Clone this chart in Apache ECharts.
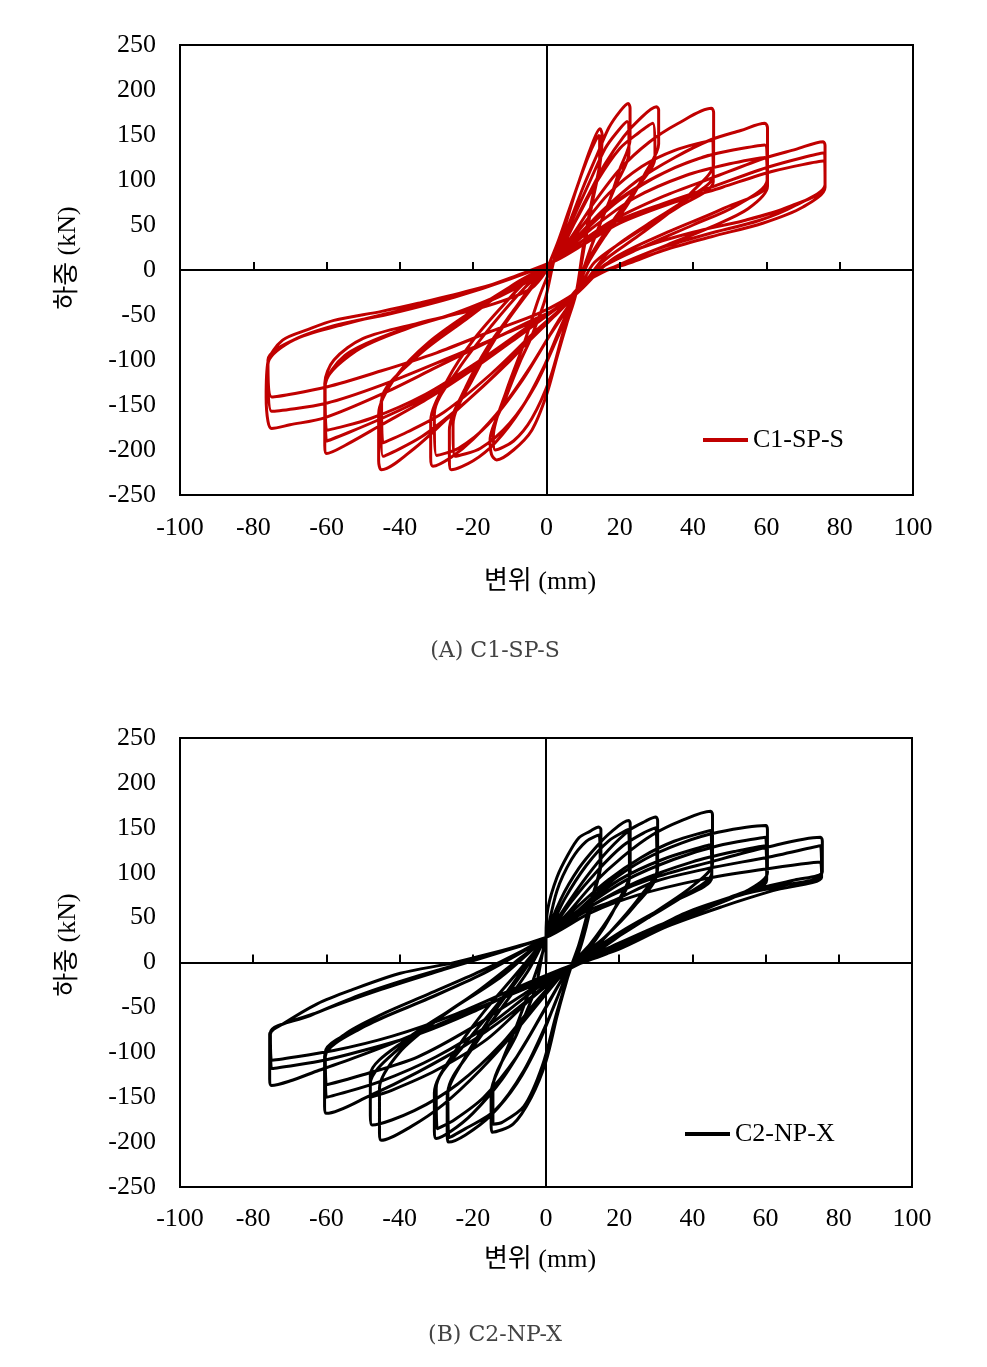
<!DOCTYPE html>
<html>
<head>
<meta charset="utf-8">
<script src="https://cdn.jsdelivr.net/npm/echarts@6/dist/echarts.min.js"></script>
<style>
html,body{margin:0;padding:0;background:#fff;}
#chart{width:987px;height:1367px;}
</style>
</head>
<body>
<div id="chart"></div>
<script>
// ---- tick values ----
var xMin = -100, xMax = 100, xStep = 20;
var yMin = -250, yMax = 250, yStep = 50;

// ---- C1-SP-S : [displacement mm, load kN] per amplitude group ----
var c1Amp15 = [
 [0,0],[3,30],[6,65],[9,100],[12,135],[14.6,157],[15.2,150],[14.5,115],[12.5,75],[10.5,30],[8,-27],[5.5,-60],[3,-95],[0,-139],[-4,-178],[-9,-200],[-13.6,-211],[-15,-205],[-15.4,-189],[-11.3,-144],[-7,-100],[-4.5,-78],[-0.4,-33],[2,10],
 [5,48],[8,88],[11,122],[13.5,145],[14.5,150],[14.5,120],[12.5,80],[10,25],[8,-27],[4.5,-70],[1,-120],[-4,-165],[-9,-190],[-14,-200],[-14.5,-185],[-11,-135],[-6,-80],[-2,-30],[2,10]
];
var c1Amp22 = [
 [6,50],[10,92],[14,130],[17,158],[20,176],[22.3,185],[22.8,180],[22.8,145],[20,112],[17,75],[13,35],[10,0],[8,-27],[4,-62],[-1,-110],[-7,-155],[-14,-192],[-20,-212],[-26,-222],[-26.5,-212],[-26.5,-178],[-22,-130],[-16,-85],[-9,-45],[-3,-12],[2,10],
 [7,55],[12,100],[16,135],[19,152],[22,165],[22.5,130],[19,95],[15,55],[11,12],[8,-27],[3,-75],[-3,-128],[-10,-170],[-18,-198],[-25,-207],[-25.5,-172],[-20,-120],[-13,-70],[-5,-25],[2,10]
];
var c1Amp30 = [
 [6,40],[11,80],[16,118],[21,148],[25,166],[30,181.5],[30.6,178],[30.6,140],[27,108],[22,72],[16,38],[11,5],[8,-27],[3,-58],[-4,-105],[-12,-152],[-20,-188],[-26,-208],[-31,-218],[-31.6,-208],[-31.6,-168],[-27,-122],[-20,-78],[-12,-40],[-5,-10],[2,10],
 [8,55],[14,100],[20,135],[25,152],[29,163],[29.6,125],[24,88],[17,48],[11,8],[8,-27],[1,-72],[-7,-125],[-16,-172],[-24,-198],[-30,-206],[-30.6,-160],[-24,-110],[-15,-62],[-6,-20],[2,10]
];
var c1Amp45 = [
 [7,38],[13,75],[20,112],[28,142],[36,163],[45,179.6],[45.6,175],[45.6,118],[40,88],[33,62],[24,35],[15,8],[8,-27],[2,-52],[-7,-88],[-17,-128],[-27,-165],[-36,-198],[-45,-222],[-45.8,-212],[-45.8,-160],[-41,-118],[-32,-80],[-20,-45],[-8,-14],[2,10],
 [9,45],[17,85],[26,115],[35,133],[45,144],[45.5,105],[38,78],[28,52],[17,20],[8,-27],[-1,-62],[-11,-105],[-23,-150],[-34,-185],[-44.6,-207],[-45.2,-150],[-38,-105],[-26,-65],[-12,-25],[2,10],
 [11,48],[22,85],[33,110],[45,128],[45.5,98],[36,70],[24,40],[13,8],[8,-27],[-3,-68],[-15,-115],[-28,-158],[-38,-180],[-44.6,-192],[-45,-145],[-35,-95],[-22,-55],[-9,-16],[2,10]
];
var c1Amp60 = [
 [8,35],[15,65],[25,100],[35,125],[45,145],[53,155],[59.6,163],[60.3,158],[60.3,93],[55,68],[45,48],[33,28],[21,8],[12,-10],[8,-27],[2,-45],[-8,-75],[-20,-110],[-32,-142],[-45,-172],[-55,-195],[-60,-204],[-60.5,-195],[-60.5,-126],[-58,-100],[-50,-76],[-35,-59],[-17,-41],[-4,-20],[2,10],
 [10,42],[20,78],[32,108],[45,128],[59.6,139],[60.2,100],[52,72],[40,50],[26,25],[14,0],[8,-27],[-2,-55],[-15,-95],[-30,-135],[-45,-165],[-60,-190],[-60.4,-130],[-55,-95],[-42,-70],[-25,-48],[-10,-22],[2,10],
 [12,45],[24,80],[38,105],[50,118],[59.6,125],[60.2,95],[48,68],[33,42],[18,12],[8,-27],[-4,-60],[-18,-100],[-33,-138],[-48,-165],[-60,-178],[-60.4,-128],[-52,-90],[-38,-65],[-20,-42],[-6,-15],[2,10]
];
var c1Amp75 = [
 [9,30],[18,55],[32,82],[45,102],[60,125],[68,134],[75.5,142.6],[76,138],[76,92],[70,70],[59,52],[45,37],[32,22],[22.8,8],[11.9,-7.4],[8.2,-22],[4,-40],[-5,-58],[-15,-78],[-30,-108],[-45,-138],[-60.4,-164],[-70,-172],[-75,-176],[-76,-168],[-76.5,-141],[-76,-102],[-72,-78],[-65,-66],[-58,-56],[-45,-46],[-35,-37],[-20,-22],[-8,-7],[2.8,11],
 [9,26],[18,52],[32,74],[45,92],[61,115],[75.5,130],[76,95],[68,72],[58,55],[44,40],[30,23],[20,6],[12,-8],[8,-25],[0,-50],[-12,-72],[-28,-100],[-45,-128],[-60,-148],[-75,-157],[-76,-105],[-70,-80],[-58,-62],[-42,-48],[-25,-30],[-10,-10],[2.8,11],
 [10,28],[20,52],[34,74],[48,92],[62,110],[75.5,121],[76,93],[66,70],[54,55],[40,42],[26,25],[16,6],[8,-25],[-2,-48],[-15,-68],[-30,-92],[-45,-112],[-60,-130],[-75,-141],[-76,-100],[-68,-76],[-55,-60],[-40,-45],[-22,-26],[-8,-6],[2.8,11]
];

// ---- C2-NP-X ----
var c2Amp15 = [
 [0,0],[0,28],[0.5,60],[3,95],[6,120],[9,139],[12,146],[14.4,151],[15,148],[15,110],[13,75],[11,40],[9,12],[7,-3],[5,-30],[3,-60],[0,-110],[-4,-150],[-9,-180],[-14.7,-189],[-15,-180],[-15,-145],[-12,-110],[-8,-70],[-4,-25],[-1,10],[0,28],
 [3,80],[7,115],[11,135],[14.5,142],[14.8,110],[12,65],[9,20],[7,-3],[3,-55],[-1,-115],[-6,-160],[-12,-178],[-14.5,-180],[-14.5,-140],[-8,-80],[-3,-30],[0,28]
];
var c2Amp22 = [
 [4,70],[9,105],[14,130],[18,146],[22.6,158],[23,155],[23,100],[20,70],[16,40],[11,12],[7,-3],[3,-40],[-2,-90],[-8,-135],[-15,-170],[-22,-192],[-26.6,-200],[-27,-192],[-27,-150],[-22,-105],[-15,-60],[-7,-15],[0,28],
 [5,70],[11,108],[17,135],[22.5,148],[22.8,95],[18,55],[12,20],[7,-3],[1,-60],[-6,-120],[-14,-165],[-22,-185],[-26.5,-195],[-26.8,-145],[-20,-95],[-12,-50],[-5,-10],[0,28]
];
var c2Amp30 = [
 [5,60],[11,95],[17,125],[23,148],[27,157],[30,162],[30.5,158],[30.5,105],[26,75],[20,45],[13,15],[7,-3],[2,-35],[-5,-85],[-12,-130],[-20,-168],[-26,-188],[-30,-196],[-30.5,-188],[-30.5,-145],[-25,-100],[-17,-55],[-8,-12],[0,28],
 [7,68],[14,102],[21,130],[27,145],[30,150],[30.3,100],[24,62],[16,28],[7,-3],[0,-50],[-8,-105],[-17,-150],[-25,-175],[-29.7,-185],[-30,-140],[-22,-90],[-12,-40],[0,28]
];
var c2Amp45 = [
 [6,55],[13,88],[21,118],[29,142],[37,158],[45,168.5],[45.5,164],[45.5,110],[40,85],[32,62],[22,35],[13,10],[7,-3],[1,-30],[-8,-75],[-18,-120],[-28,-158],[-37,-183],[-45,-198],[-45.5,-190],[-45.5,-140],[-40,-100],[-30,-65],[-18,-30],[-7,5],[0,28],
 [8,60],[17,92],[26,117],[35,135],[45,147],[45.3,100],[38,75],[28,50],[17,22],[7,-3],[-2,-40],[-12,-90],[-24,-135],[-36,-165],[-47.5,-181],[-48,-170],[-48,-135],[-40,-95],[-28,-58],[-15,-22],[0,28],
 [10,62],[20,92],[32,115],[45,131],[45.3,95],[35,68],[22,38],[10,6],[7,-3],[-4,-40],[-16,-85],[-30,-120],[-42,-142],[-48,-150],[-48,-125],[-38,-85],[-25,-50],[-12,-15],[0,28]
];
var c2Amp60 = [
 [8,55],[17,88],[27,115],[37,133],[47,145],[60,152.6],[60.5,148],[60.5,100],[55,80],[45,62],[33,42],[20,18],[10,2],[7,-3],[0,-25],[-10,-58],[-22,-92],[-35,-122],[-48,-148],[-60,-168],[-60.5,-160],[-60.5,-105],[-55,-80],[-45,-58],[-32,-35],[-18,-10],[-7,12],[0,28],
 [10,60],[22,92],[35,115],[47,130],[60,139.5],[60.3,95],[50,72],[36,50],[22,25],[10,3],[7,-3],[-3,-30],[-15,-68],[-30,-105],[-45,-132],[-60,-150],[-60.3,-105],[-50,-72],[-35,-45],[-20,-18],[-8,8],[0,28],
 [12,62],[25,90],[40,112],[52,124],[60,130],[60.3,92],[48,68],[33,45],[18,18],[7,-3],[-6,-35],[-20,-72],[-35,-105],[-50,-125],[-60,-136],[-60.3,-100],[-48,-68],[-32,-40],[-16,-10],[0,28]
];
var c2Amp75 = [
 [8,52],[18,75],[30,95],[45,112],[60,128],[75,139.5],[75.5,135],[75.5,101],[68,92],[59.5,84],[47.7,69],[40,58],[27.6,32],[16.7,10],[9.4,-1],[5,-10],[-5,-28],[-17,-48],[-30,-70],[-42,-90],[-53,-107],[-62,-120],[-70,-132],[-75,-137],[-75.5,-130],[-75.5,-80],[-71.7,-68],[-62.5,-46],[-53.4,-31],[-39.8,-12],[-26,-1],[-17,8],[-8,18],[0,28],
 [10,55],[18.5,69],[30.4,91],[45.8,106],[60.4,117],[75,130],[75.3,98],[65,86],[52,74],[38,55],[25,28],[14,6],[7,-3],[-5,-25],[-20,-55],[-35,-80],[-50,-98],[-62,-110],[-75,-118],[-75.3,-78],[-65,-60],[-50,-35],[-35,-15],[-18,5],[0,28],
 [12,55],[25,75],[42,92],[58,103],[75,112],[75.3,95],[62,80],[48,62],[33,40],[20,15],[7,-3],[-8,-28],[-25,-58],[-42,-82],[-58,-98],[-75,-109],[-75.3,-80],[-62,-55],[-45,-30],[-28,-8],[-12,12],[0,28]
];

var c1Data = [].concat(c1Amp15, c1Amp22, c1Amp30, c1Amp45, c1Amp60, c1Amp75);
var c2Data = [].concat(c2Amp15, c2Amp22, c2Amp30, c2Amp45, c2Amp60, c2Amp75);

var serif = '"Liberation Serif", "Times New Roman", serif';
var kfont = '"Liberation Serif", "Noto Sans CJK KR", serif';

function labelAxis(grid, margin) {
  return {
    type: 'value', gridIndex: grid, min: xMin, max: xMax, interval: xStep, position: 'bottom',
    axisLine: { show: false, onZero: false }, axisTick: { show: false }, splitLine: { show: false },
    axisLabel: { color: '#000', fontFamily: serif, fontSize: 26, margin: margin }
  };
}
function zeroXAxis(grid, yIdx) {
  return {
    type: 'value', gridIndex: grid, min: xMin, max: xMax, interval: xStep, position: 'bottom', z: 5,
    axisLine: { show: true, onZero: true, onZeroAxisIndex: yIdx, lineStyle: { color: '#000', width: 2 } },
    axisTick: { show: true, inside: true, length: 8, lineStyle: { color: '#000', width: 2 } },
    axisLabel: { show: false }, splitLine: { show: false }
  };
}
function labelYAxis(grid) {
  return {
    type: 'value', gridIndex: grid, min: yMin, max: yMax, interval: yStep, position: 'left',
    axisLine: { show: false, onZero: false }, axisTick: { show: false }, splitLine: { show: false },
    axisLabel: { color: '#000', fontFamily: serif, fontSize: 26, margin: 24 }
  };
}
function zeroYAxis(grid, xIdx) {
  return {
    type: 'value', gridIndex: grid, min: yMin, max: yMax, interval: yStep, position: 'left', z: 5,
    axisLine: { show: true, onZero: true, onZeroAxisIndex: xIdx, lineStyle: { color: '#000', width: 2 } },
    axisTick: { show: false }, axisLabel: { show: false }, splitLine: { show: false }
  };
}

var chart = echarts.init(document.getElementById('chart'), null, { renderer: 'canvas' });
chart.setOption({
  backgroundColor: '#fff',
  animation: false,
  grid: [
    { left: 180, top: 45, width: 733, height: 450, show: true, borderColor: '#000', borderWidth: 2, backgroundColor: 'transparent' },
    { left: 180, top: 738, width: 732, height: 449, show: true, borderColor: '#000', borderWidth: 2, backgroundColor: 'transparent' }
  ],
  xAxis: [labelAxis(0, 20), zeroXAxis(0, 0), labelAxis(1, 19), zeroXAxis(1, 2)],
  yAxis: [labelYAxis(0), zeroYAxis(0, 0), labelYAxis(1), zeroYAxis(1, 2)],
  legend: [
    { data: ['C1-SP-S'], left: 703, top: 427, padding: 0, icon: 'rect', itemWidth: 45, itemHeight: 4,
      textStyle: { fontFamily: serif, fontSize: 26, color: '#000' } },
    { data: ['C2-NP-X'], left: 685, top: 1121, padding: 0, icon: 'rect', itemWidth: 45, itemHeight: 4,
      textStyle: { fontFamily: serif, fontSize: 26, color: '#000' } }
  ],
  series: [
    { name: 'C1-SP-S', type: 'line', xAxisIndex: 0, yAxisIndex: 0, data: c1Data, showSymbol: false,
      smooth: 0.3, color: '#C00000', lineStyle: { color: '#C00000', width: 3 } },
    { name: 'C2-NP-X', type: 'line', xAxisIndex: 2, yAxisIndex: 2, data: c2Data, showSymbol: false,
      smooth: 0.3, color: '#000000', lineStyle: { color: '#000', width: 3 } }
  ],
  graphic: [
    { type: 'text', x: 68, y: 258, rotation: Math.PI / 2,
      style: { text: '하중 (kN)', font: '26px ' + kfont, fill: '#000', align: 'center', verticalAlign: 'middle' } },
    { type: 'text', x: 540, y: 582,
      style: { text: '변위 (mm)', font: '26px ' + kfont, fill: '#000', align: 'center', verticalAlign: 'middle' } },
    { type: 'text', x: 495, y: 651,
      style: { text: '(A) C1-SP-S', font: '22px "DejaVu Serif", serif', fill: '#444', align: 'center', verticalAlign: 'middle' } },
    { type: 'text', x: 68, y: 945, rotation: Math.PI / 2,
      style: { text: '하중 (kN)', font: '26px ' + kfont, fill: '#000', align: 'center', verticalAlign: 'middle' } },
    { type: 'text', x: 540, y: 1260,
      style: { text: '변위 (mm)', font: '26px ' + kfont, fill: '#000', align: 'center', verticalAlign: 'middle' } },
    { type: 'text', x: 495, y: 1335,
      style: { text: '(B) C2-NP-X', font: '22px "DejaVu Serif", serif', fill: '#444', align: 'center', verticalAlign: 'middle' } }
  ]
});
</script>
</body>
</html>
